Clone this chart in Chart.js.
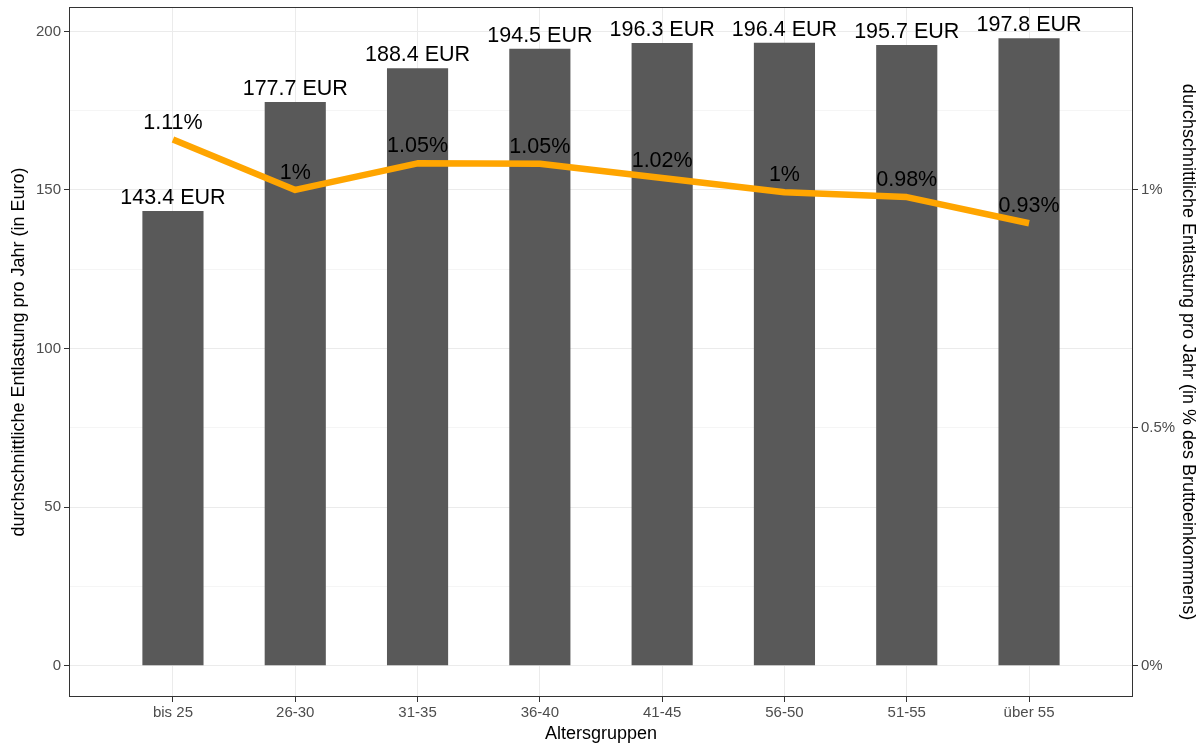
<!DOCTYPE html>
<html>
<head>
<meta charset="utf-8">
<script src="https://cdn.jsdelivr.net/npm/chart.js@4"></script>
<style>
  html, body { margin: 0; padding: 0; background: #fff; }
  #wrap { width: 1204px; height: 746px; }
</style>
</head>
<body>
<div id="wrap"><canvas id="chart" width="1204" height="746"></canvas></div>
<script>
// ---------- data ----------
const categories = ['bis 25', '26-30', '31-35', '36-40', '41-45', '56-50', '51-55', 'über 55'];
const eurValues = [143.4, 177.7, 188.4, 194.5, 196.3, 196.4, 195.7, 197.8];
const pctValues = [1.106, 1.0, 1.056, 1.055, 1.025, 0.995, 0.985, 0.93];
const pctLabels = ['1.11%', '1%', '1.05%', '1.05%', '1.02%', '1%', '0.98%', '0.93%'];
const eurTicks = [0, 25, 50, 75, 100, 125, 150, 175, 200];
const pctTicks = [0, 0.5, 1];

const FACTOR = 150; // EUR units per 1% on the secondary axis
const yMin = -9.89, yMax = 207.69;
const FONT = '"Liberation Sans", Arial, sans-serif';

// panel border + value labels
const panelPlugin = {
    id: 'panel',
    afterDatasetsDraw(chart) {
        const { ctx, chartArea: a } = chart;
        ctx.save();
        ctx.strokeStyle = '#333333';
        ctx.lineWidth = 1;
        ctx.strokeRect(Math.round(a.left) + 0.5, Math.round(a.top) + 0.5,
            Math.round(a.right - a.left) - 1, Math.round(a.bottom - a.top) - 1);

        ctx.fillStyle = '#000';
        ctx.font = '21.5px ' + FONT;
        ctx.textAlign = 'center';
        ctx.textBaseline = 'alphabetic';
        chart.getDatasetMeta(0).data.forEach((el, i) => {
            ctx.fillText(eurValues[i].toFixed(1) + ' EUR', el.x, el.y - 7);
        });
        chart.getDatasetMeta(1).data.forEach((el, i) => {
            ctx.fillText(pctLabels[i], el.x, el.y - 11);
        });
        ctx.restore();
    }
};

function fixSize(prop, size) {
    return function (scale) {
        scale[prop] = size;
        scale.paddingTop = 0; scale.paddingBottom = 0;
        scale.paddingLeft = 0; scale.paddingRight = 0;
    };
}

const tickFont = { family: FONT, size: 15 };
const titleFont = { family: FONT, size: 18 };

new Chart(document.getElementById('chart').getContext('2d'), {
    data: {
        datasets: [{
            type: 'bar',
            data: eurValues.map((v, i) => ({ x: i + 1, y: v })),
            backgroundColor: '#595959',
            borderWidth: 0,
            barPercentage: 0.5,
            categoryPercentage: 1,
            yAxisID: 'y',
            order: 2
        }, {
            type: 'line',
            data: pctValues.map((v, i) => ({ x: i + 1, y: v })),
            borderColor: '#FFA500',
            borderWidth: 6.5,
            borderJoinStyle: 'round',
            pointRadius: 0,
            tension: 0,
            fill: false,
            yAxisID: 'y1',
            order: 1
        }]
    },
    options: {
        responsive: false,
        animation: false,
        devicePixelRatio: 1,
        layout: { padding: { top: 7, left: 0, right: 0, bottom: 0 } },
        plugins: { legend: { display: false }, tooltip: { enabled: false } },
        scales: {
            x: {
                type: 'linear',
                position: 'bottom',
                offset: false,
                min: 0.15,
                max: 8.85,
                afterBuildTicks: s => { s.ticks = categories.map((c, i) => ({ value: i + 1 })); },
                afterFit: fixSize('height', 49),
                ticks: {
                    callback: v => categories[v - 1] || '',
                    font: tickFont, color: '#4d4d4d', padding: 2, maxRotation: 0, autoSkip: false
                },
                grid: { offset: false, color: '#ebebeb', lineWidth: 1, tickLength: 5, tickColor: '#333333', tickWidth: 1 },
                border: { display: false },
                title: { display: true, text: 'Altersgruppen', font: titleFont, color: '#000', padding: { top: 0, bottom: 1 } }
            },
            y: {
                position: 'left',
                min: yMin,
                max: yMax,
                afterBuildTicks: s => { s.ticks = eurTicks.map(v => ({ value: v })); },
                afterFit: fixSize('width', 69),
                ticks: {
                    callback: v => (v % 50 === 0 ? String(v) : ''),
                    font: tickFont, color: '#4d4d4d', padding: 3, autoSkip: false
                },
                grid: {
                    color: '#ebebeb',
                    lineWidth: c => (c.tick && c.tick.value % 50 === 0 ? 1 : 0.5),
                    tickLength: 5,
                    tickWidth: 1,
                    tickColor: c => (c.tick && c.tick.value % 50 === 0 ? '#333333' : 'rgba(0,0,0,0)')
                },
                border: { display: false },
                title: { display: true, text: 'durchschnittliche Entlastung pro Jahr (in Euro)', font: titleFont, color: '#000', padding: { top: 8, bottom: 0 } }
            },
            y1: {
                position: 'right',
                min: yMin / FACTOR,
                max: yMax / FACTOR,
                afterBuildTicks: s => { s.ticks = pctTicks.map(v => ({ value: v })); },
                afterFit: fixSize('width', 71),
                ticks: {
                    callback: v => v + '%',
                    font: tickFont, color: '#4d4d4d', padding: 3
                },
                grid: { drawOnChartArea: false, tickLength: 5, tickWidth: 1, tickColor: '#333333' },
                border: { display: false },
                title: { display: true, text: 'durchschnittliche Entlastung pro Jahr (in % des Bruttoeinkommens)', font: titleFont, color: '#000', padding: { top: 5, bottom: 0 } }
            }
        }
    },
    plugins: [panelPlugin]
});
</script>
</body>
</html>
